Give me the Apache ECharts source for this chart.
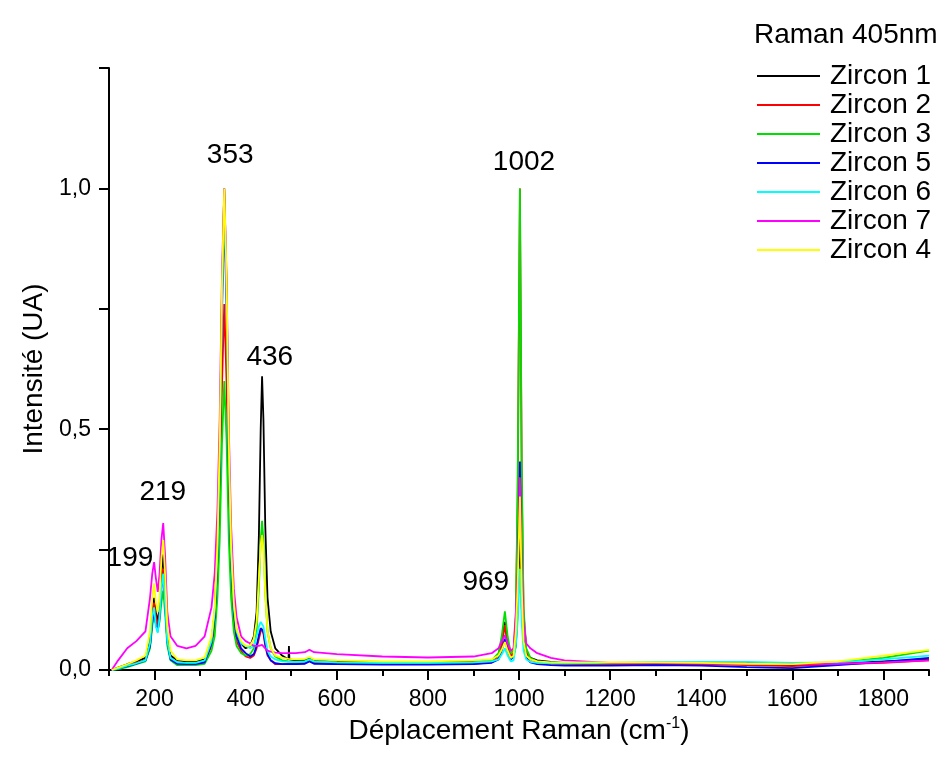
<!DOCTYPE html>
<html>
<head>
<meta charset="utf-8">
<script src="https://cdn.jsdelivr.net/npm/echarts@6/dist/echarts.min.js"></script>
<style>
html,body{margin:0;padding:0;background:#fff;}
#main{width:947px;height:771px;}
</style>
</head>
<body>
<div id="main"></div>
<script>
// nombre d'onde (cm-1)
var shift = [106,120,140,160,180,190,195,199,203,207,
  211,215,219,223,228,235,250,270,290,310,
  325,332,338,343,348,353,358,363,368,374,
  380,390,400,410,418,424,429,433,436,439,
  443,448,455,465,480,494,495,496,510,530,
  540,550,600,700,800,900,940,955,962,969,
  975,982,988,993,997,1002,1006,1010,1016,1025,
  1040,1070,1100,1200,1300,1400,1500,1600,1700,1800,
  1900];

var zircon1 = [0,0.005,0.012,0.018,0.025,0.06,0.12,0.15,0.12,0.10,
  0.13,0.20,0.24,0.17,0.07,0.03,0.02,0.018,0.018,0.022,
  0.06,0.12,0.25,0.45,0.78,1.0,0.8,0.45,0.25,0.13,
  0.08,0.055,0.045,0.05,0.07,0.12,0.28,0.5,0.61,0.52,
  0.3,0.15,0.08,0.045,0.03,0.022,0.05,0.022,0.02,0.02,
  0.025,0.02,0.018,0.017,0.016,0.017,0.02,0.03,0.06,0.10,
  0.06,0.03,0.03,0.05,0.12,0.30,0.13,0.06,0.035,0.025,
  0.02,0.017,0.015,0.013,0.013,0.013,0.012,0.01,0.013,0.018,
  0.022];
var zircon2 = [0,0.004,0.01,0.015,0.02,0.05,0.11,0.14,0.11,0.09,
  0.12,0.18,0.21,0.15,0.06,0.025,0.015,0.013,0.013,0.017,
  0.05,0.09,0.19,0.34,0.59,0.76,0.6,0.34,0.19,0.1,
  0.06,0.04,0.028,0.025,0.03,0.045,0.065,0.08,0.085,0.075,
  0.05,0.03,0.02,0.012,0.012,0.013,0.013,0.013,0.013,0.014,
  0.02,0.015,0.013,0.012,0.012,0.013,0.016,0.025,0.05,0.093,
  0.05,0.03,0.035,0.1,0.35,1.0,0.4,0.12,0.04,0.022,
  0.016,0.013,0.012,0.01,0.011,0.012,0.01,0.008,0.012,0.015,
  0.02];
var zircon3 = [0,0.002,0.006,0.012,0.018,0.045,0.09,0.118,0.095,0.085,
  0.1,0.14,0.165,0.12,0.05,0.02,0.01,0.01,0.01,0.013,
  0.04,0.07,0.15,0.27,0.47,0.6,0.48,0.27,0.15,0.08,
  0.05,0.035,0.03,0.033,0.045,0.08,0.17,0.27,0.31,0.27,
  0.16,0.08,0.045,0.028,0.02,0.018,0.018,0.018,0.017,0.018,
  0.022,0.018,0.016,0.015,0.015,0.016,0.02,0.035,0.07,0.122,
  0.07,0.035,0.04,0.11,0.38,1.0,0.42,0.13,0.045,0.025,
  0.018,0.015,0.014,0.014,0.015,0.015,0.014,0.013,0.016,0.025,
  0.04];
var zircon5 = [0,0.003,0.008,0.013,0.02,0.05,0.1,0.12,0.095,0.08,
  0.11,0.17,0.2,0.14,0.06,0.022,0.013,0.012,0.012,0.016,
  0.055,0.11,0.23,0.42,0.74,0.95,0.76,0.42,0.23,0.12,
  0.07,0.045,0.035,0.028,0.033,0.05,0.072,0.087,0.09,0.08,
  0.055,0.033,0.02,0.014,0.012,0.012,0.012,0.012,0.012,0.013,
  0.018,0.013,0.012,0.011,0.011,0.012,0.015,0.022,0.04,0.065,
  0.04,0.022,0.028,0.07,0.17,0.433,0.18,0.06,0.025,0.016,
  0.012,0.01,0.009,0.009,0.01,0.009,0.006,0.004,0.01,0.017,
  0.025];
var zircon6 = [0,0.003,0.009,0.014,0.02,0.055,0.11,0.13,0.09,0.077,
  0.11,0.17,0.2,0.14,0.06,0.025,0.016,0.015,0.015,0.02,
  0.06,0.12,0.24,0.44,0.76,0.97,0.78,0.44,0.24,0.13,
  0.08,0.055,0.05,0.045,0.05,0.07,0.09,0.1,0.1,0.09,
  0.065,0.04,0.028,0.022,0.018,0.017,0.017,0.017,0.017,0.018,
  0.022,0.018,0.016,0.015,0.015,0.016,0.018,0.022,0.032,0.045,
  0.03,0.018,0.02,0.05,0.1,0.21,0.1,0.04,0.022,0.017,
  0.015,0.014,0.014,0.015,0.017,0.017,0.017,0.015,0.016,0.022,
  0.03];
var zircon7 = [0,0.02,0.045,0.06,0.08,0.15,0.2,0.224,0.19,0.162,
  0.2,0.27,0.305,0.24,0.12,0.07,0.05,0.045,0.05,0.07,
  0.13,0.2,0.33,0.52,0.82,1.0,0.82,0.5,0.3,0.17,
  0.11,0.07,0.06,0.055,0.05,0.05,0.05,0.052,0.052,0.05,
  0.045,0.04,0.038,0.036,0.035,0.035,0.035,0.035,0.035,0.037,
  0.042,0.037,0.033,0.028,0.026,0.028,0.035,0.045,0.06,0.072,
  0.055,0.04,0.045,0.12,0.2,0.40,0.22,0.1,0.055,0.045,
  0.035,0.025,0.02,0.015,0.015,0.014,0.013,0.012,0.013,0.016,
  0.02];
var zircon4 = [0,0.005,0.012,0.02,0.03,0.08,0.15,0.18,0.14,0.12,
  0.15,0.23,0.27,0.2,0.09,0.04,0.022,0.02,0.02,0.026,
  0.07,0.13,0.26,0.47,0.8,1.0,0.82,0.47,0.26,0.14,
  0.085,0.06,0.05,0.05,0.065,0.1,0.19,0.26,0.28,0.25,
  0.16,0.08,0.045,0.03,0.025,0.023,0.023,0.023,0.022,0.023,
  0.027,0.022,0.02,0.018,0.018,0.02,0.022,0.03,0.042,0.058,
  0.04,0.025,0.03,0.08,0.17,0.36,0.17,0.06,0.03,0.022,
  0.018,0.016,0.016,0.016,0.016,0.015,0.013,0.012,0.018,0.03,
  0.042];

var names = ['Zircon 1','Zircon 2','Zircon 3','Zircon 5','Zircon 6','Zircon 7','Zircon 4'];
var colors = ['#000000','#ff0000','#00e000','#0000ff','#00ffff','#ff00ff','#ffff00'];
var spectra = [zircon1,zircon2,zircon3,zircon5,zircon6,zircon7,zircon4];

// annotations des pics : position x, y et texte
var peakX = [146,218,366,453,927,1011];
var peakY = [0.233,0.37,1.069,0.65,0.183,1.055];
var peakText = ['199','219','353','436','969','1002'];

var xTicks = [200,400,600,800,1000,1200,1400,1600,1800];

var FONT = 'Liberation Sans, Arial, sans-serif';

var series = spectra.map(function(ys,i){
    return {
        name:names[i],
        type:'line',
        symbol:'none',
        smooth:false,
        animation:false,
        lineStyle:{width:1.8,color:colors[i]},
        itemStyle:{color:colors[i]},
        data:ys.map(function(y,j){return [shift[j],y];})
    };
});

var myChart = echarts.init(document.getElementById('main'));
myChart.setOption({
    backgroundColor:'#fff',
    animation:false,
    title:{
        text:'Raman 405nm',
        left:749,
        top:16,
        textStyle:{fontSize:28,fontWeight:'normal',color:'#000',fontFamily:FONT}
    },
    legend:{
        data:names.map(function(n){return {name:n,icon:'rect'};}),
        orient:'vertical',
        left:757,
        top:62,
        padding:0,
        itemWidth:63,
        itemHeight:2,
        itemGap:1,
        textStyle:{fontSize:28,color:'#000',fontFamily:FONT,padding:[0,0,0,5],lineHeight:28}
    },
    grid:{left:109,right:18,top:68,bottom:101},
    xAxis:[{
        type:'value',
        min:100,
        max:1900,
        interval:100,
        position:'bottom',
        name:'Déplacement Raman (cm{sup|-1})',
        nameLocation:'middle',
        nameGap:35,
        nameTextStyle:{
            fontSize:28,color:'#000',fontFamily:FONT,
            rich:{sup:{fontSize:16,verticalAlign:'top',padding:[0,0,14,0],color:'#000',fontFamily:FONT}}
        },
        axisLine:{lineStyle:{color:'#000',width:2}},
        axisTick:{length:10,lineStyle:{color:'#000',width:2},customValues:xTicks},
        axisLabel:{fontSize:23,color:'#000',fontFamily:FONT,margin:18,customValues:xTicks,
            formatter:function(v){return String(v);}},
        splitLine:{show:false}
    },{
        type:'value',
        min:100,
        max:1900,
        interval:100,
        position:'bottom',
        offset:0,
        axisLine:{show:false},
        axisTick:{length:6,lineStyle:{color:'#000',width:2}},
        axisLabel:{show:false},
        splitLine:{show:false}
    }],
    yAxis:{
        type:'value',
        min:0,
        max:1.25,
        interval:0.25,
        name:'Intensité (UA)',
        nameLocation:'middle',
        nameGap:61,
        nameTextStyle:{fontSize:28,color:'#000',fontFamily:FONT},
        axisLine:{show:true,lineStyle:{color:'#000',width:2}},
        axisTick:{show:true,length:10,lineStyle:{color:'#000',width:2}},
        axisLabel:{
            fontSize:23,color:'#000',fontFamily:FONT,margin:18,
            formatter:function(v){
                if(Math.abs(v-0)<1e-6) return '0,0';
                if(Math.abs(v-0.5)<1e-6) return '0,5';
                if(Math.abs(v-1)<1e-6) return '1,0';
                return '';
            }
        },
        splitLine:{show:false}
    },
    series:series
});

// étiquettes des pics placées via l'échelle du graphique
myChart.setOption({
    graphic:peakText.map(function(t,i){
        var p = myChart.convertToPixel({gridIndex:0},[peakX[i],peakY[i]]);
        return {
            type:'text',
            x:p[0],
            y:p[1],
            silent:true,
            style:{
                text:t,
                fill:'#000',
                font:'28px "Liberation Sans", Arial, sans-serif',
                textAlign:'center',
                textVerticalAlign:'middle'
            }
        };
    })
});
</script>
</body>
</html>
